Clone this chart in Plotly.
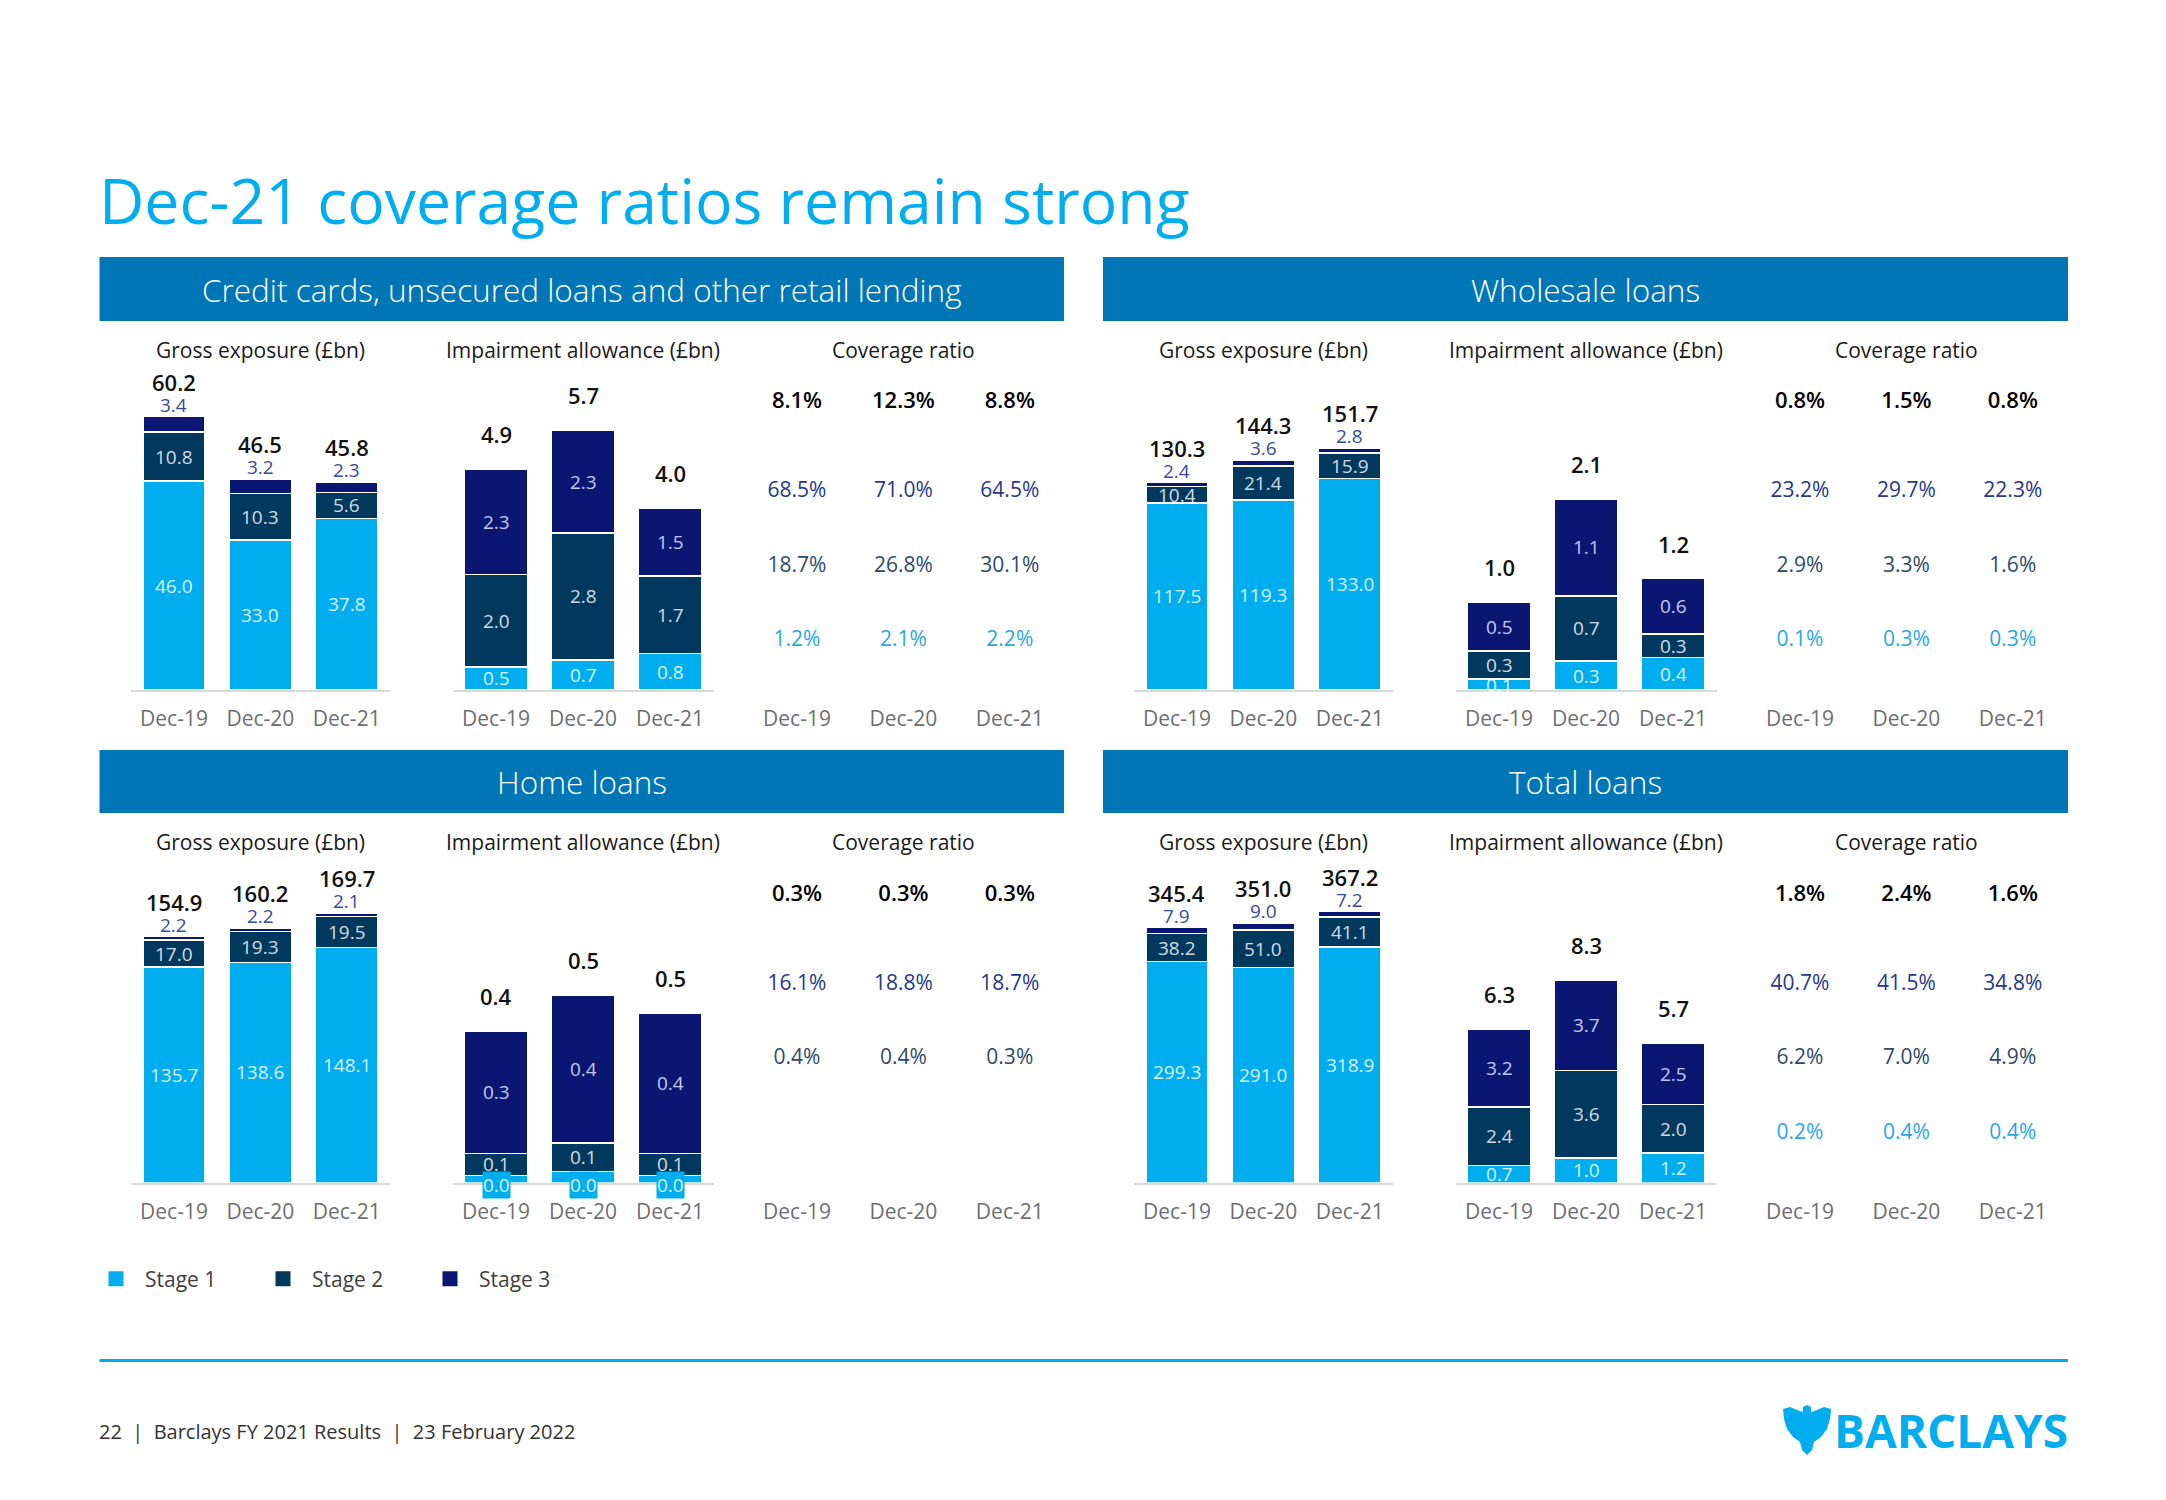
import plotly.graph_objects as go

W, H = 2166, 1500

periods = ["Dec-19", "Dec-20", "Dec-21"]
stage_names = ["Stage 1", "Stage 2", "Stage 3"]

# ---------------- data (GBP bn, coverage in %) ----------------
# Credit cards, unsecured loans and other retail lending
cc_gross_s1 = [46.0, 33.0, 37.83]
cc_gross_s2 = [10.8, 10.3, 5.62]
cc_gross_s3 = [3.4, 3.2, 2.33]
cc_imp_s1 = [0.51, 0.66, 0.81]
cc_imp_s2 = [2.04, 2.81, 1.71]
cc_imp_s3 = [2.32, 2.26, 1.49]
cc_cov_total = [8.1, 12.3, 8.8]
cc_cov_s3 = [68.5, 71.0, 64.5]
cc_cov_s2 = [18.7, 26.8, 30.1]
cc_cov_s1 = [1.2, 2.1, 2.2]

# Wholesale loans
ws_gross_s1 = [117.5, 119.3, 133.0]
ws_gross_s2 = [10.4, 21.4, 15.9]
ws_gross_s3 = [2.4, 3.6, 2.8]
ws_imp_s1 = [0.12, 0.32, 0.36]
ws_imp_s2 = [0.31, 0.72, 0.26]
ws_imp_s3 = [0.54, 1.07, 0.61]
ws_cov_total = [0.8, 1.5, 0.8]
ws_cov_s3 = [23.2, 29.7, 22.3]
ws_cov_s2 = [2.9, 3.3, 1.6]
ws_cov_s1 = [0.1, 0.3, 0.3]

# Home loans
hl_gross_s1 = [135.7, 138.64, 148.1]
hl_gross_s2 = [17.0, 19.33, 19.5]
hl_gross_s3 = [2.2, 2.22, 2.1]
hl_imp_s1 = [0.02, 0.03, 0.02]
hl_imp_s2 = [0.06, 0.08, 0.06]
hl_imp_s3 = [0.34, 0.41, 0.39]
hl_cov_total = [0.3, 0.3, 0.3]
hl_cov_s3 = [16.1, 18.8, 18.7]
hl_cov_s2 = [0.4, 0.4, 0.3]

# Total loans
tl_gross_s1 = [299.3, 291.0, 318.9]
tl_gross_s2 = [38.2, 51.0, 41.1]
tl_gross_s3 = [7.9, 9.0, 7.2]
tl_imp_s1 = [0.7, 1.0, 1.2]
tl_imp_s2 = [2.4, 3.6, 2.0]
tl_imp_s3 = [3.2, 3.7, 2.5]
tl_cov_total = [1.8, 2.4, 1.6]
tl_cov_s3 = [40.7, 41.5, 34.8]
tl_cov_s2 = [6.2, 7.0, 4.9]
tl_cov_s1 = [0.2, 0.4, 0.4]

# ---------------- style ----------------
FONT = "Open Sans"
C1, C2, C3 = "#00AEEF", "#00395D", "#0B1673"
STAGE_COLORS = [C1, C2, C3]
HEADER_C = "#0076B6"
AXIS_C = "#D9D9D9"
TICK_C = "#6D6E71"
IN_C = ["rgba(255,255,255,0.85)", "rgba(235,240,246,0.9)", "#C3CAEE"]
S3_TOP_C = "#3A4A9A"
COV_C = {"total": "#000000", "s3": "#27388A", "s2": "#2E4A68", "s1": "#2AA8E0"}
ROW_Y = {"total": 3.2, "s3": 2.0, "s2": 1.0, "s1": 0.0}

TOP_BASE = 690.0
PANEL_DY = 492.5
PANEL_DX = 1003.0
PLOT_H = 310.0
ROW_PX = 74.5
S1_ROW_PX = 49.0
X_DOM = {"gross": (130.8, 389.9), "imp": (452.5, 713.5), "cov": (743.8, 1063.0)}


def px_x(x):
    return x / W


def px_y(y):
    return 1 - y / H


fig = go.Figure()
annotations = []
shapes = []
axes = {}
counter = [0]


def new_axes():
    counter[0] += 1
    n = counter[0]
    sfx = "" if n == 1 else str(n)
    return "x" + sfx, "y" + sfx, "xaxis" + sfx, "yaxis" + sfx


def bar_chart(dx, base, stages, k, kind, s1_on_axis=False):
    x0, x1 = X_DOM[kind]
    xr, yr, xk, yk = new_axes()
    axes[xk] = dict(domain=[px_x(x0 + dx), px_x(x1 + dx)], anchor=yr, type="category",
                    range=[-0.5, 2.5], showline=True, linecolor=AXIS_C, linewidth=2,
                    ticks="", ticklabelstandoff=9, tickfont=dict(size=21, color=TICK_C),
                    showgrid=False, zeroline=False, fixedrange=True)
    axes[yk] = dict(domain=[px_y(base), px_y(base - PLOT_H)], anchor=xr,
                    range=[0, PLOT_H / k], visible=False, fixedrange=True)
    for si, vals in enumerate(stages):
        fig.add_trace(go.Bar(x=periods, y=vals, name=stage_names[si],
                             marker=dict(color=STAGE_COLORS[si],
                                         line=dict(color="white", width=1.5)),
                             width=0.72, xaxis=xr, yaxis=yr, showlegend=False,
                             hoverinfo="skip"))
    totals = [sum(s[j] for s in stages) for j in range(3)]
    cum = [0.0] * 3
    for si, vals in enumerate(stages):
        for j, v in enumerate(vals):
            label = f"{v:.1f}"
            if kind == "gross" and si == 2:
                annotations.append(dict(x=periods[j], y=totals[j], xref=xr, yref=yr, text=label,
                                        showarrow=False, yanchor="middle", yshift=12,
                                        font=dict(size=19, color=S3_TOP_C)))
            elif si == 0 and s1_on_axis:
                annotations.append(dict(x=periods[j], y=0, xref=xr, yref=yr, text=label,
                                        showarrow=False, yanchor="middle", yshift=-2,
                                        bgcolor=C1, borderpad=0,
                                        font=dict(size=19, color=IN_C[0])))
            else:
                annotations.append(dict(x=periods[j], y=cum[j] + v / 2, xref=xr, yref=yr,
                                        text=label, showarrow=False, yanchor="middle",
                                        font=dict(size=19, color=IN_C[si])))
            cum[j] += v
    for j, t in enumerate(totals):
        annotations.append(dict(x=periods[j], y=t, xref=xr, yref=yr, text=f"{t:.1f}",
                                showarrow=False, yanchor="middle", yshift=35,
                                font=dict(size=22, color="#111111", weight=600)))


def coverage(dx, base, rows):
    x0, x1 = X_DOM["cov"]
    xr, yr, xk, yk = new_axes()
    axes[xk] = dict(domain=[px_x(x0 + dx), px_x(x1 + dx)], anchor=yr, type="category",
                    range=[-0.5, 2.5], showline=False, ticks="", ticklabelstandoff=14,
                    tickfont=dict(size=21, color=TICK_C), showgrid=False, zeroline=False,
                    fixedrange=True)
    axes[yk] = dict(domain=[px_y(base), px_y(base - PLOT_H)], anchor=xr,
                    range=[-S1_ROW_PX / ROW_PX, (PLOT_H - S1_ROW_PX) / ROW_PX],
                    visible=False, fixedrange=True)
    for key, vals in rows:
        total = key == "total"
        fig.add_trace(go.Scatter(x=periods, y=[ROW_Y[key]] * len(vals), mode="text",
                                 text=[f"{v:.1f}%" for v in vals], textposition="middle center",
                                 textfont=dict(size=22 if total else 21, color=COV_C[key],
                                               weight=600 if total else 400),
                                 xaxis=xr, yaxis=yr, showlegend=False, hoverinfo="skip",
                                 cliponaxis=False))


panels = [
    dict(title="Credit cards, unsecured loans and other retail lending", col=0, row=0,
         gross=[cc_gross_s1, cc_gross_s2, cc_gross_s3], gk=4.54,
         imp=[cc_imp_s1, cc_imp_s2, cc_imp_s3], ik=45.3, s1_axis=False,
         cov=[("total", cc_cov_total), ("s3", cc_cov_s3), ("s2", cc_cov_s2), ("s1", cc_cov_s1)]),
    dict(title="Wholesale loans", col=1, row=0,
         gross=[ws_gross_s1, ws_gross_s2, ws_gross_s3], gk=1.592,
         imp=[ws_imp_s1, ws_imp_s2, ws_imp_s3], ik=90.5, s1_axis=False,
         cov=[("total", ws_cov_total), ("s3", ws_cov_s3), ("s2", ws_cov_s2), ("s1", ws_cov_s1)]),
    dict(title="Home loans", col=0, row=1,
         gross=[hl_gross_s1, hl_gross_s2, hl_gross_s3], gk=1.588,
         imp=[hl_imp_s1, hl_imp_s2, hl_imp_s3], ik=361.0, s1_axis=True,
         cov=[("total", hl_cov_total), ("s3", hl_cov_s3), ("s2", hl_cov_s2)]),
    dict(title="Total loans", col=1, row=1,
         gross=[tl_gross_s1, tl_gross_s2, tl_gross_s3], gk=0.738,
         imp=[tl_imp_s1, tl_imp_s2, tl_imp_s3], ik=24.4, s1_axis=False,
         cov=[("total", tl_cov_total), ("s3", tl_cov_s3), ("s2", tl_cov_s2), ("s1", tl_cov_s1)]),
]

HEAD_Y = [(257.0, 321.0), (750.0, 813.0)]
HEAD_X = [(99.5, 1064.0), (1103.0, 2068.0)]

for i, p in enumerate(panels):
    dx = PANEL_DX * p["col"]
    dy = PANEL_DY * p["row"]
    base = TOP_BASE + dy
    hx0, hx1 = HEAD_X[p["col"]]
    hy0, hy1 = HEAD_Y[p["row"]]
    shapes.append(dict(type="rect", xref="paper", yref="paper", x0=px_x(hx0), x1=px_x(hx1),
                       y0=px_y(hy1), y1=px_y(hy0), fillcolor=HEADER_C, line=dict(width=0),
                       layer="below"))
    annotations.append(dict(xref="paper", yref="paper", x=px_x((hx0 + hx1) / 2),
                            y=px_y((hy0 + hy1) / 2), text=p["title"], showarrow=False,
                            xanchor="center", yanchor="middle",
                            font=dict(size=31.5, color="white", weight=300)))
    for kind, label in [("gross", "Gross exposure (£bn)"), ("imp", "Impairment allowance (£bn)"),
                        ("cov", "Coverage ratio")]:
        x0, x1 = X_DOM[kind]
        annotations.append(dict(xref="paper", yref="paper", x=px_x((x0 + x1) / 2 + dx),
                                y=px_y(349.5 + dy), text=label, showarrow=False,
                                xanchor="center", yanchor="middle",
                                font=dict(size=21, color="#1A1A1A", weight=500)))
    bar_chart(dx, base, p["gross"], p["gk"], "gross")
    bar_chart(dx, base, p["imp"], p["ik"], "imp", s1_on_axis=p["s1_axis"])
    coverage(dx, base, p["cov"])

# legend entries (square swatches)
for si, nm in enumerate(stage_names):
    fig.add_trace(go.Scatter(x=[None], y=[None], mode="markers", name=nm,
                             marker=dict(symbol="square", size=15, color=STAGE_COLORS[si]),
                             showlegend=True, hoverinfo="skip"))

# main title
annotations.append(dict(xref="paper", yref="paper", x=px_x(97), y=px_y(199),
                        text="Dec-21 coverage ratios remain strong", showarrow=False,
                        xanchor="left", yanchor="middle",
                        font=dict(size=62.5, color="#00AEEF", weight=400)))

# footer
shapes.append(dict(type="line", xref="paper", yref="paper", x0=px_x(99.5), x1=px_x(2068),
                   y0=px_y(1360.5), y1=px_y(1360.5), line=dict(color="#00AEEF", width=3)))
annotations.append(dict(xref="paper", yref="paper", x=px_x(97), y=px_y(1431),
                        text="22\u00a0\u00a0|\u00a0\u00a0Barclays FY 2021 Results\u00a0\u00a0|\u00a0\u00a023 February 2022",
                        showarrow=False, xanchor="left", yanchor="middle",
                        font=dict(size=20, color="#333333")))

# logo
annotations.append(dict(xref="paper", yref="paper", x=px_x(2070), y=px_y(1430),
                        text="BARCLAYS", showarrow=False, xanchor="right", yanchor="middle",
                        font=dict(size=46, color="#00AEEF", weight=700)))
eagle = [(1807, 1405), (1811, 1407), (1811, 1412), (1817, 1410), (1824, 1407), (1831, 1409),
         (1830, 1419), (1827, 1429), (1821, 1437), (1814, 1442), (1812, 1450), (1807, 1455),
         (1802, 1450), (1800, 1442), (1793, 1437), (1787, 1429), (1784, 1419), (1783, 1409),
         (1790, 1407), (1797, 1410), (1803, 1412), (1803, 1407)]
path = "M " + " L ".join(f"{px_x(x):.5f},{px_y(y):.5f}" for x, y in eagle) + " Z"
shapes.append(dict(type="path", xref="paper", yref="paper", path=path, fillcolor="#00AEEF",
                   line=dict(width=0)))

fig.update_layout(
    width=W, height=H, margin=dict(l=0, r=0, t=0, b=0),
    paper_bgcolor="white", plot_bgcolor="white",
    font=dict(family=FONT, color="#333333"),
    barmode="stack",
    showlegend=True,
    legend=dict(orientation="h", x=px_x(87), y=px_y(1279), xanchor="left", yanchor="middle",
                font=dict(size=21, color="#404040"), itemwidth=48, entrywidth=104,
                entrywidthmode="pixels", traceorder="normal", bgcolor="rgba(0,0,0,0)"),
    annotations=annotations, shapes=shapes,
    **axes,
)

fig.write_html("out.html", config={"displayModeBar": False},
               post_script="document.body.style.margin='0';")
